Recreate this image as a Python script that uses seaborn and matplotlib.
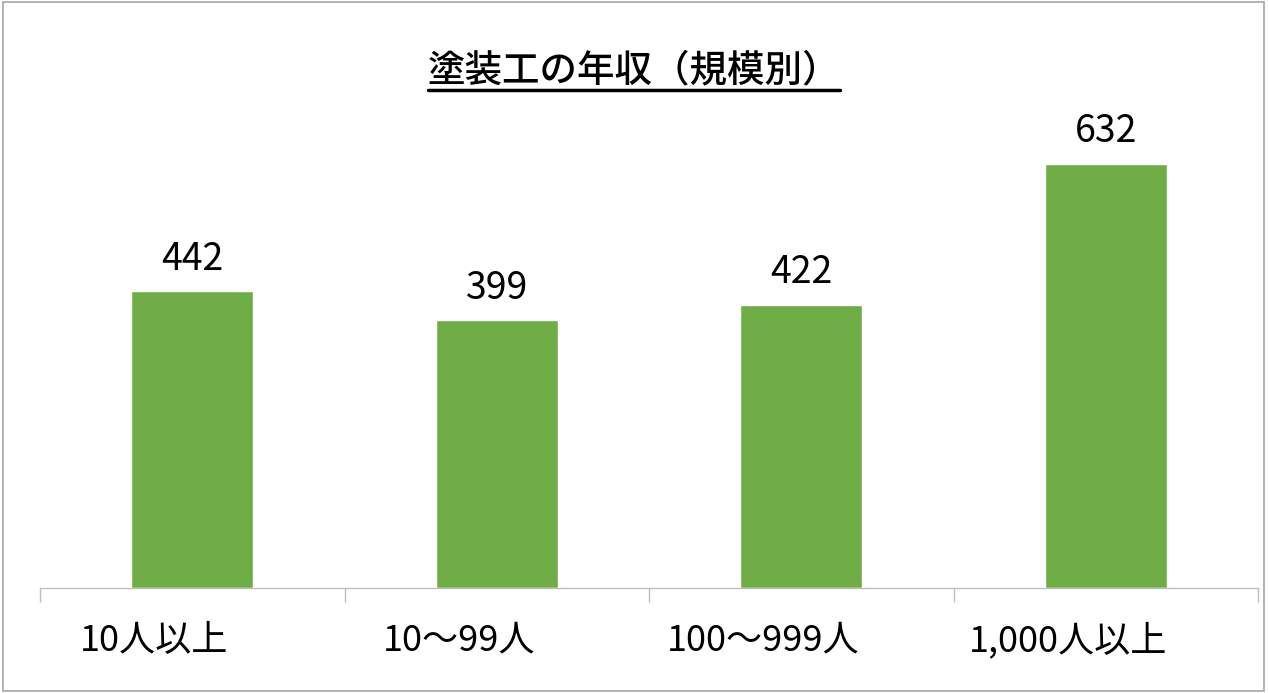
import matplotlib
matplotlib.use("Agg")
import matplotlib.pyplot as plt
import matplotlib.transforms as mtransforms
import seaborn as sns
import pandas as pd
from matplotlib.patches import Rectangle
from matplotlib.lines import Line2D

# data
categories = ["10人以上", "10～99人", "100～999人", "1,000人以上"]
salary = [442, 399, 422, 632]
title = "塗装工の年収（規模別）"

sns.set_theme(style="white")
plt.rcParams['font.family'] = ['Noto Sans CJK JP', 'DejaVu Sans']

df = pd.DataFrame({"size": categories, "salary": salary})

fig = plt.figure(figsize=(12.68, 6.93), dpi=100)
ax = fig.add_axes([40 / 1268, 1 - 588 / 693, 1218 / 1268, 470 / 693])

sns.barplot(data=df, x="size", y="salary", color="#70AD47", width=0.4,
            saturation=1, ax=ax)
ax.set_ylim(0, 700)
ax.set_xlim(-0.5, 3.5)

ax.bar_label(ax.containers[0], fontsize=27, padding=9, color="black")

# axis look
for s in ["top", "right", "left"]:
    ax.spines[s].set_visible(False)
ax.spines["bottom"].set_color("#bfbfbf")
ax.spines["bottom"].set_linewidth(1)
ax.set_yticks([])
ax.set_xlabel("")
ax.set_ylabel("")
ax.tick_params(axis="x", which="major", length=0, labelsize=26, pad=25, labelcolor="black")
ax.set_xticks([-0.5, 0.5, 1.5, 2.5, 3.5], minor=True)
ax.tick_params(axis="x", which="minor", bottom=True, length=10, color="#bfbfbf",
               width=1, direction="out")

# category labels sit a little left of the bar centres in the original
shift = mtransforms.ScaledTranslation(-38 / 100, 0, fig.dpi_scale_trans)
for lbl in ax.get_xticklabels():
    lbl.set_transform(lbl.get_transform() + shift)

# title with underline
t = fig.text(0.5, 1 - 70 / 693, title, ha="center", va="center", fontsize=27,
             color="black", fontweight="medium")
fig.canvas.draw()
bb = t.get_window_extent().transformed(fig.transFigure.inverted())
y_line = 1 - 90 / 693
fig.add_artist(Line2D([bb.x0, bb.x1], [y_line, y_line], transform=fig.transFigure,
                      color="black", linewidth=2.5))

# outer border
fig.add_artist(Rectangle((0.002, 0.003), 0.995, 0.994, transform=fig.transFigure,
                         fill=False, edgecolor="#a6a6a6", linewidth=1.2))

fig.savefig("out.png", dpi=100)
